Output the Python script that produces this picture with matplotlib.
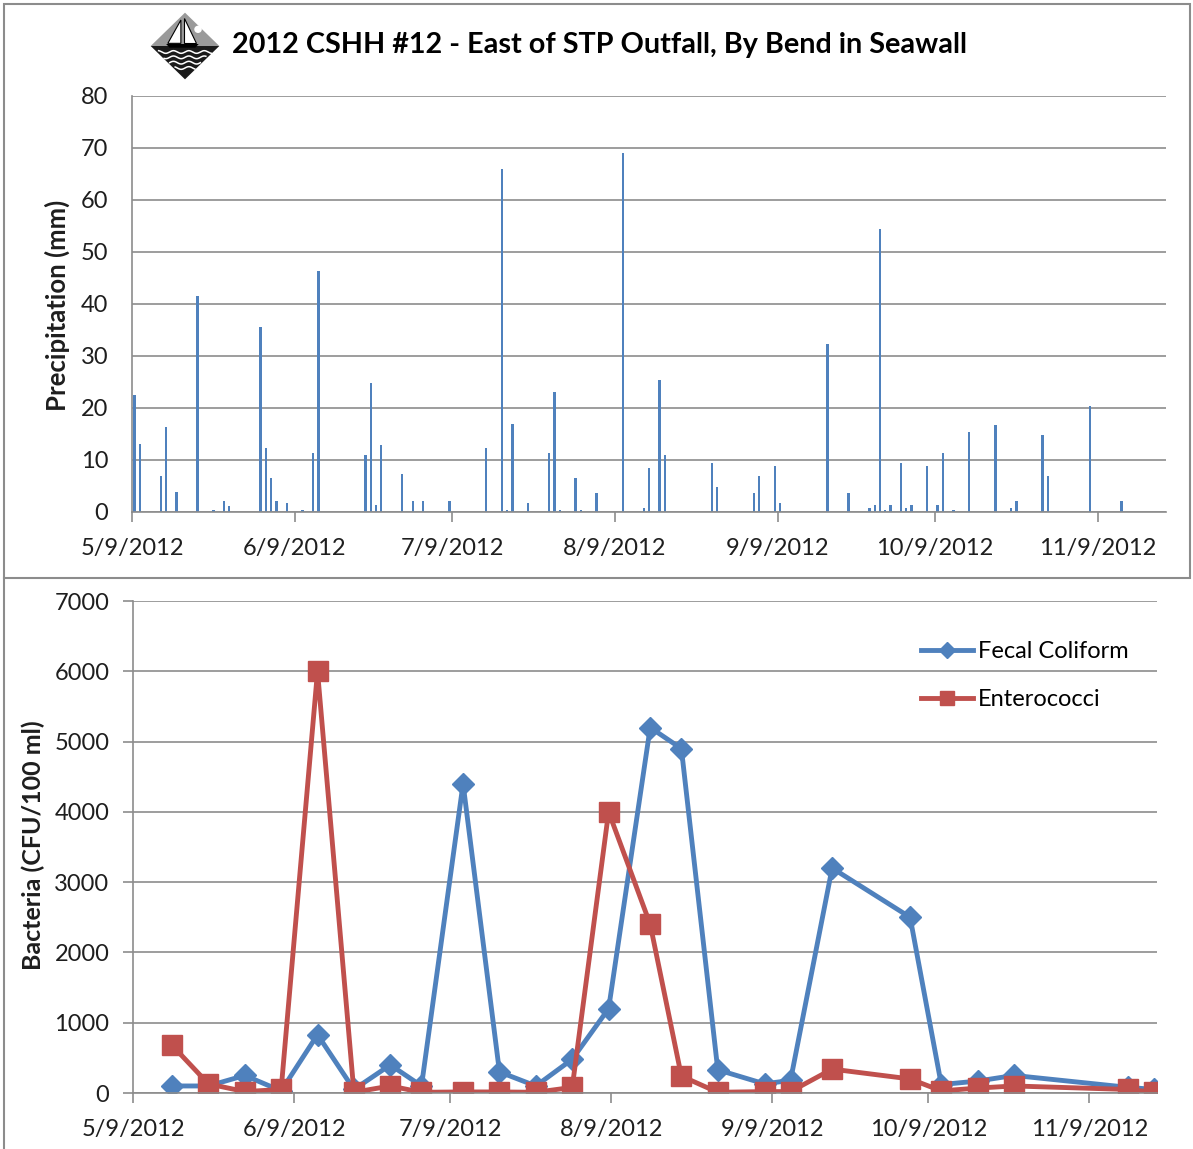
import numpy as np
import pandas as pd
import matplotlib
matplotlib.use("Agg")
import matplotlib.pyplot as plt
import matplotlib.dates as mdates
from matplotlib.patches import Polygon, Rectangle, Circle
from matplotlib.ticker import FuncFormatter, MultipleLocator

plt.rcParams["font.family"] = ["Lato", "DejaVu Sans"]

# Daily rainfall, mm
rain_dates = [
    "2012-05-09", "2012-05-10", "2012-05-14", "2012-05-15", "2012-05-17", "2012-05-21",
    "2012-05-24", "2012-05-26", "2012-05-27", "2012-06-02", "2012-06-03", "2012-06-04",
    "2012-06-05", "2012-06-07", "2012-06-10", "2012-06-12", "2012-06-13", "2012-06-22",
    "2012-06-23", "2012-06-24", "2012-06-25", "2012-06-29", "2012-07-01", "2012-07-03",
    "2012-07-08", "2012-07-15", "2012-07-18", "2012-07-19", "2012-07-20", "2012-07-23",
    "2012-07-27", "2012-07-28", "2012-07-29", "2012-08-01", "2012-08-02", "2012-08-05",
    "2012-08-10", "2012-08-14", "2012-08-15", "2012-08-17", "2012-08-18", "2012-08-27",
    "2012-08-28", "2012-09-04", "2012-09-05", "2012-09-08", "2012-09-09", "2012-09-18",
    "2012-09-22", "2012-09-26", "2012-09-27", "2012-09-28", "2012-09-29", "2012-09-30",
    "2012-10-02", "2012-10-03", "2012-10-04", "2012-10-07", "2012-10-09", "2012-10-10",
    "2012-10-12", "2012-10-15", "2012-10-20", "2012-10-23", "2012-10-24", "2012-10-29",
    "2012-10-30", "2012-11-07", "2012-11-13",
]
rain_mm = [
    22.5, 13.0, 7.0, 16.3, 3.8, 41.5,
    0.3, 2.2, 1.2, 35.5, 12.4, 6.5,
    2.2, 1.7, 0.3, 11.3, 46.3, 10.9,
    24.9, 1.3, 12.8, 7.4, 2.2, 2.2,
    2.2, 12.4, 66.0, 0.3, 16.9, 1.7,
    11.3, 23.0, 0.3, 6.5, 0.3, 3.7,
    69.0, 0.8, 8.4, 25.4, 10.9, 9.4,
    4.9, 3.7, 6.9, 8.9, 1.7, 32.3,
    3.7, 0.8, 1.3, 54.5, 0.3, 1.3,
    9.4, 0.8, 1.3, 8.9, 1.3, 11.3,
    0.3, 15.3, 16.8, 0.8, 2.2, 14.8,
    6.9, 20.3, 2.2,
]

# Weekly bacteria samples, CFU/100 ml
sample_dates = [
    "2012-05-16", "2012-05-23", "2012-05-30", "2012-06-06", "2012-06-13", "2012-06-20",
    "2012-06-27", "2012-07-03", "2012-07-11", "2012-07-18", "2012-07-25", "2012-08-01",
    "2012-08-08", "2012-08-16", "2012-08-22", "2012-08-29", "2012-09-07", "2012-09-12",
    "2012-09-20", "2012-10-05", "2012-10-11", "2012-10-18", "2012-10-25", "2012-11-16",
    "2012-11-21",
]
fecal_coliform = [
    100, 100, 250, 30, 830, 50,
    400, 100, 4400, 300, 100, 480,
    1200, 5200, 4900, 330, 130, 180,
    3200, 2500, 120, 170, 250, 80,
    50,
]
enterococci = [
    680, 130, 20, 50, 6000, 10,
    100, 10, 15, 15, 10, 80,
    4000, 2400, 240, 10, 20, 20,
    340, 200, 30, 70, 100, 50,
    10,
]

BLUE = "#4F81BD"
RED = "#C0504D"
GRID = "#8c8c8c"
TEXT = "#1e1e1e"

W, H = 1193, 1149


def box(left, top, right, bottom):
    # pixel box -> figure fraction [l, b, w, h]
    return [left / W, 1 - bottom / H, (right - left) / W, (bottom - top) / H]


def date_label(v, pos):
    d = mdates.num2date(v)
    return f"{d.month}/{d.day}/{d.year}"


# each reading sits in the middle of its day
rain_x = mdates.date2num(pd.to_datetime(rain_dates)) + 0.5
sample_x = mdates.date2num(pd.to_datetime(sample_dates)) + 0.5
x_start = mdates.date2num(pd.Timestamp("2012-05-09"))
x_end = mdates.date2num(pd.Timestamp("2012-11-22"))

fig = plt.figure(figsize=(W / 100, H / 100), dpi=100)

# panel frames
fig.add_artist(Rectangle((4 / W, 1 - 578 / H), (1190 - 4) / W, (578 - 4) / H,
                         transform=fig.transFigure, fill=False, ec=GRID, lw=1.5))
fig.add_artist(plt.Line2D([4 / W, 4 / W], [0, 1 - 578 / H],
                          transform=fig.transFigure, color=GRID, lw=1.5))


def style_axes(ax):
    ax.set_xlim(x_start, x_end)
    ax.xaxis.set_major_locator(mdates.MonthLocator(bymonthday=9))
    ax.xaxis.set_major_formatter(FuncFormatter(date_label))
    ax.yaxis.grid(True, color=GRID, lw=1.2)
    ax.set_axisbelow(True)
    for side in ["top", "right"]:
        ax.spines[side].set_visible(False)
    for side in ["left", "bottom"]:
        ax.spines[side].set_color(GRID)
        ax.spines[side].set_linewidth(1.2)
    ax.tick_params(axis="both", colors=GRID, labelcolor=TEXT, labelsize=17, width=1.2)
    ax.tick_params(axis="x", length=7, pad=12)


# precipitation
ax1 = fig.add_axes(box(132, 96, 1166, 512))
ax1.bar(rain_x, rain_mm, width=0.45, color=BLUE, linewidth=0)
ax1.set_ylim(0, 80)
ax1.yaxis.set_major_locator(MultipleLocator(10))
style_axes(ax1)
ax1.tick_params(axis="y", length=0, pad=17)

# bacteria
ax2 = fig.add_axes(box(133, 601, 1157, 1093))
ax2.plot(sample_x, fecal_coliform, color=BLUE, lw=3.5, marker="D", ms=11,
         label="Fecal Coliform")
ax2.plot(sample_x, enterococci, color=RED, lw=3.5, marker="s", ms=14,
         label="Enterococci")
ax2.set_ylim(0, 7000)
ax2.yaxis.set_major_locator(MultipleLocator(1000))
style_axes(ax2)
ax2.tick_params(axis="y", length=7, pad=10)
ax2.legend(loc="upper left", bbox_to_anchor=(921 / W, 1 - 641 / H),
           bbox_transform=fig.transFigure, frameon=False, fontsize=17,
           handlelength=2.2, handletextpad=0.2, labelspacing=1.15,
           borderpad=0, borderaxespad=0, markerscale=0.75)

# axis titles
fig.text(57 / W, 1 - 305 / H, "Precipitation (mm)", rotation=90, ha="center",
         va="center", fontsize=18.5, fontweight="bold", color=TEXT)
fig.text(33 / W, 1 - 845 / H, "Bacteria (CFU/100 ml)", rotation=90, ha="center",
         va="center", fontsize=18, fontweight="bold", color=TEXT)

# chart title
fig.text(600 / W, 1 - 45 / H, "2012 CSHH #12 - East of STP Outfall, By Bend in Seawall",
         ha="center", va="center", fontsize=20.7, fontweight="bold", color="black")

# sailboat logo beside the title
logo = fig.add_axes(box(150, 12, 220, 80))
logo.set_xlim(-1.02, 1.02)
logo.set_ylim(-1.02, 1.02)
logo.axis("off")
logo.add_patch(Polygon([(-1, 0), (0, 1), (1, 0)], closed=True, fc="#9a9a9a", ec="none"))
logo.add_patch(Polygon([(-1, 0), (1, 0), (0, -1)], closed=True, fc="#1a1a1a", ec="none"))
logo.add_patch(Circle((0.38, 0.5), 0.11, fc="white", ec="none"))
wx = np.linspace(-1, 1, 200)
for wy in [-0.18, -0.34, -0.5, -0.66]:
    half = 1 + wy
    xs = wx[np.abs(wx) < half - 0.05]
    logo.plot(xs, wy + 0.04 * np.sin(xs * 14), color="white", lw=1.1)
logo.add_patch(Polygon([(-0.12, 0.78), (-0.5, 0.08), (-0.12, 0.08)], closed=True,
                       fc="white", ec="black", lw=0.8))
logo.add_patch(Polygon([(-0.04, 0.84), (-0.04, 0.08), (0.32, 0.08)], closed=True,
                       fc="white", ec="black", lw=0.8))
logo.add_patch(Polygon([(-0.55, 0.06), (0.4, 0.06), (0.3, -0.05), (-0.45, -0.05)],
                       closed=True, fc="black", ec="none"))

fig.savefig("out.png", dpi=100)
